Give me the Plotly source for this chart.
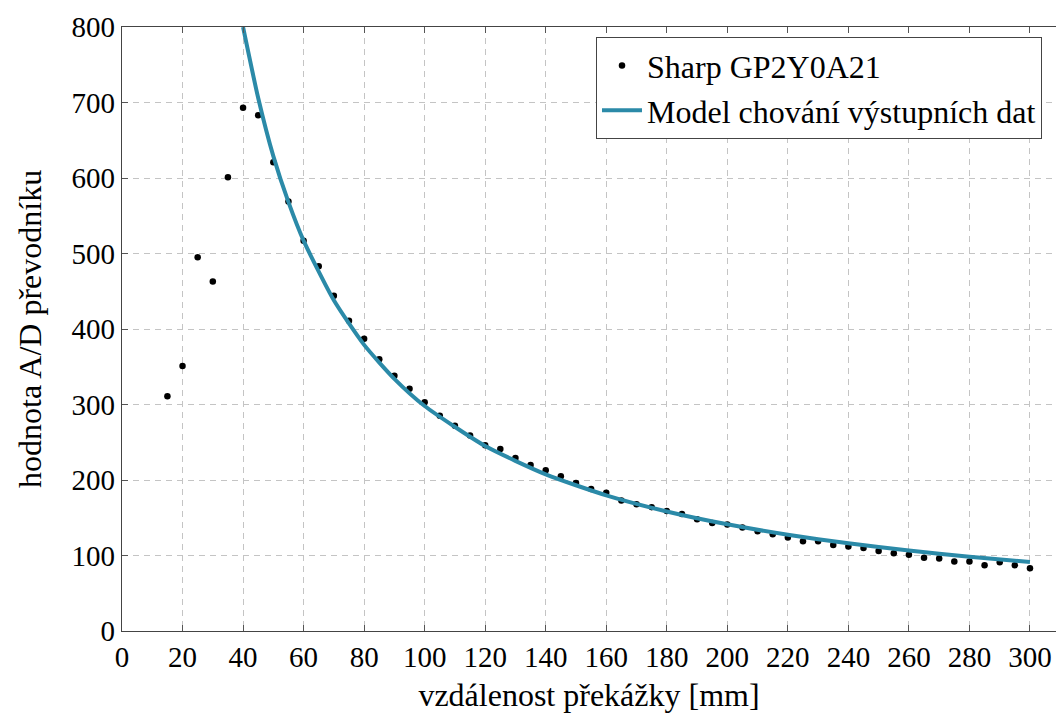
import plotly.graph_objects as go

# Measured data (Sharp GP2Y0A21)
dist_mm = [15, 20, 25, 30, 35, 40, 45, 50, 55, 60, 65, 70, 75, 80, 85, 90, 95, 100,
           105, 110, 115, 120, 125, 130, 135, 140, 145, 150, 155, 160, 165, 170,
           175, 180, 185, 190, 195, 200, 205, 210, 215, 220, 225, 230, 235, 240,
           245, 250, 255, 260, 265, 270, 275, 280, 285, 290, 295, 300]
adc_values = [311, 351, 495, 463, 601, 693, 683, 621, 569, 517, 483, 444, 411, 387,
              360, 338, 321, 303, 285, 272, 259, 246, 241, 229, 220, 213, 205, 196,
              188, 183, 173, 168, 164, 159, 155, 148, 143, 141, 137, 132, 128, 124,
              119, 119, 114, 112, 110, 106, 103, 101, 97, 96, 92, 92, 87, 91, 87, 83]

model_x = [40, 45, 50, 55, 60, 70, 80, 90, 100, 120, 140, 160, 180, 200, 220, 240,
           260, 280, 300]
model_y = [800, 706, 629, 568, 517, 438, 379, 334, 298, 245, 207.5, 179.7, 158.3,
           141.3, 127.5, 116.1, 106.5, 98.3, 91.3]

x_ticks = list(range(0, 301, 20))
y_ticks = list(range(0, 801, 100))

FONT = "'Liberation Serif', 'Times New Roman', 'DejaVu Serif', serif"
LINE_COLOR = "#2b8aa8"
FS_TICK = 29
FS_TEXT = 32

fig = go.Figure()
fig.add_trace(go.Scatter(
    x=dist_mm, y=adc_values, mode="markers", name="Sharp GP2Y0A21",
    marker=dict(color="black", size=6.5),
))
fig.add_trace(go.Scatter(
    x=model_x, y=model_y, mode="lines", name="Model chování výstupních dat",
    line=dict(color=LINE_COLOR, width=4, shape="spline", smoothing=0.6),
))

axis_common = dict(
    showgrid=True, gridcolor="#c4c4c4", gridwidth=1, griddash="6px,5px",
    zeroline=False, showline=True, linecolor="#444444", linewidth=1.3,
    ticks="inside", ticklen=6, tickcolor="#555555", tickwidth=1,
    tickfont=dict(family=FONT, size=FS_TICK, color="black"),
)

fig.update_layout(
    width=1056, height=714,
    margin=dict(l=122, r=0, t=27, b=83),
    paper_bgcolor="white", plot_bgcolor="white",
    font=dict(family=FONT, color="black"),
    showlegend=True,
    legend=dict(
        x=0.985, y=0.983, xanchor="right", yanchor="top",
        bgcolor="white", bordercolor="#444444", borderwidth=1,
        font=dict(family=FONT, size=FS_TEXT, color="black"),
        itemwidth=40, tracegroupgap=0,
    ),
    annotations=[dict(
        text="hodnota A/D převodníku", textangle=-90,
        xref="paper", yref="paper", x=-0.0985, y=0.5,
        xanchor="center", yanchor="middle", showarrow=False,
        font=dict(family=FONT, size=FS_TEXT, color="black"),
    )],
)
fig.update_xaxes(
    **axis_common, range=[0, 308.6], tickvals=x_ticks, mirror="ticks",
    title=dict(text="vzdálenost překážky [mm]", font=dict(family=FONT, size=FS_TEXT),
               standoff=11),
)
fig.update_yaxes(
    **axis_common, range=[0, 800], tickvals=y_ticks, mirror=False,
)

fig.write_html("out.html")
